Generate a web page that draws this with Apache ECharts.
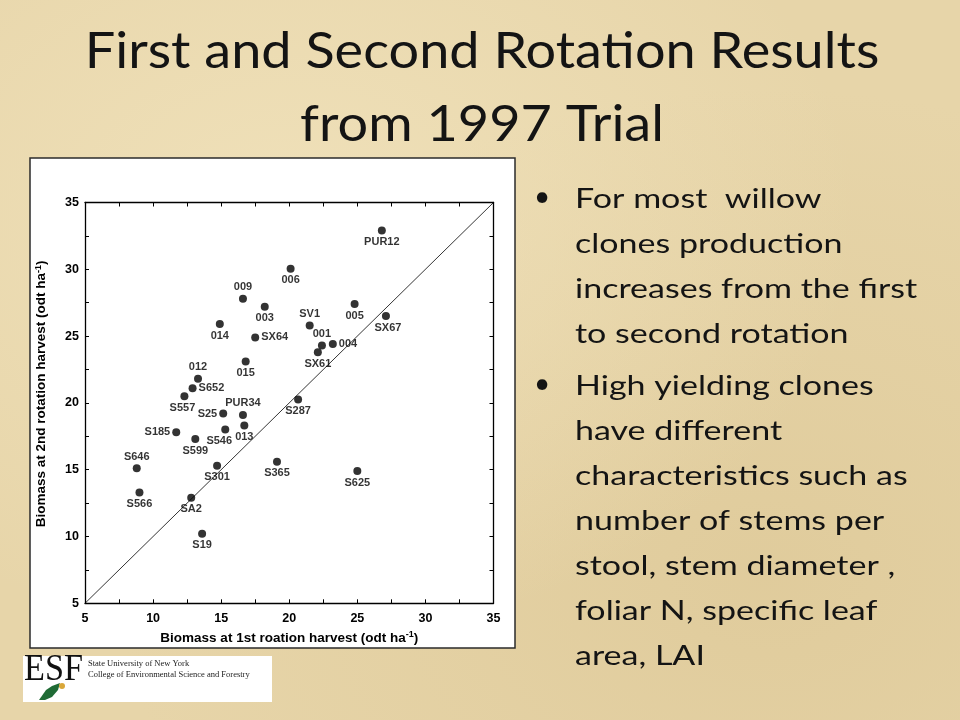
<!DOCTYPE html>
<html>
<head>
<meta charset="utf-8">
<script src="https://cdn.jsdelivr.net/npm/echarts@6/dist/echarts.min.js"></script>
<style>
html,body{margin:0;padding:0;width:960px;height:720px;overflow:hidden;}
body{background:#e7d5a9;background-image:radial-gradient(ellipse at 30% 30%, rgba(245,232,196,0.6), rgba(230,211,166,0) 60%),radial-gradient(ellipse at 80% 80%, rgba(215,192,140,0.45), rgba(230,211,166,0) 60%);}
#c{width:960px;height:720px;}
</style>
</head>
<body>
<div id="c"></div>
<script>
// ---- data ----
const clones = ['PUR12','006','005','SX67','SV1','001','004','SX61','003','SX64','009','014','015','012','S652','S557','S25','PUR34','013','S546','S185','S599','S646','S301','S566','SA2','S19','S287','S365','S625'];
const firstRotation = [26.8,20.1,24.8,27.1,21.5,22.4,23.2,22.1,18.2,17.5,16.6,14.9,16.8,13.3,12.9,12.3,15.15,16.6,16.7,15.3,11.7,13.1,8.8,14.7,9.0,12.8,13.6,20.65,19.1,25.0];
const secondRotation = [32.9,30.05,27.4,26.5,25.8,24.3,24.4,23.8,27.2,24.9,27.8,25.9,23.1,21.8,21.1,20.5,19.2,19.1,18.3,18.0,17.8,17.3,15.1,15.3,13.3,12.9,10.2,20.25,15.6,14.9];
const oneToOne = [[5,5],[35,35]];
const axisTicks = [5,10,15,20,25,30,35];
const titleLines = ['First and Second Rotation Results','from 1997 Trial'];
const bullet1 = ['For most  willow','clones production','increases from the first','to second rotation'];
const bullet2 = ['High yielding clones','have different','characteristics such as','number of stems per','stool, stem diameter ,','foliar N, specific leaf','area, LAI'];

// label placement (style)
const labelPlace = {PUR12:'bottom','006':'bottom','005':'bottom',SX67:'bottom',SV1:'top','001':'top','004':'right',SX61:'bottom','003':'bottom',SX64:'right','009':'top','014':'bottom','015':'bottom','012':'top',S652:'right',S557:'bottom',S25:'left',PUR34:'top','013':'bottom',S546:'bottom',S185:'left',S599:'bottom',S646:'top',S301:'bottom',S566:'bottom',SA2:'bottom',S19:'bottom',S287:'bottom',S365:'bottom',S625:'bottom'};
const labelOffset = {S546:[-6,0],SX67:[2,0],S557:[-2,0]};

const pts = clones.map((n,i)=>({
  name:n, value:[firstRotation[i], secondRotation[i]],
  label:{position:labelPlace[n]||'bottom', offset:labelOffset[n]||[0,0]}
}));

const chart = echarts.init(document.getElementById('c'), null, {renderer:'canvas'});
const FF = '"Liberation Sans", Arial, sans-serif';
const SF = 'Lato, "Open Sans", sans-serif';

const graphics = [];
graphics.push({type:'rect', z:-10, shape:{x:30,y:158,width:485,height:490}, style:{fill:'#fff', stroke:'#2b2b2b', lineWidth:1.5}});
titleLines.forEach((t,i)=>graphics.push({type:'text', x:482, y:52+i*73, scaleX:1.06,
  style:{text:t, x:0, y:0, textAlign:'center', textVerticalAlign:'middle', font:'51px '+SF, fill:'#141414'}}));
function addBullet(lines, y0){
  graphics.push({type:'text', x:542, y:y0-2, style:{text:'•', x:0, y:0, textAlign:'center', textVerticalAlign:'middle', font:'28px '+SF, fill:'#141414'}});
  lines.forEach((t,i)=>graphics.push({type:'text', x:575, y:y0+i*45, scaleX:1.26,
    style:{text:t, x:0, y:0, textAlign:'left', textVerticalAlign:'middle', font:'27px '+SF, fill:'#141414'}}));
}
addBullet(bullet1, 199);
addBullet(bullet2, 386);
// logo
graphics.push({type:'rect', shape:{x:23,y:656,width:249,height:46}, style:{fill:'#fff'}});
graphics.push({type:'text', x:24, y:670, scaleX:0.9, style:{text:'ESF', x:0, y:0, textVerticalAlign:'middle', font:'38px "Liberation Serif", "DejaVu Serif", serif', fill:'#111'}});
graphics.push({type:'polygon', shape:{points:[[39,700],[46,690],[52,686],[60,683],[58,690],[52,697],[45,700]]}, style:{fill:'#1f6b35'}});
graphics.push({type:'circle', shape:{cx:62,cy:686,r:3}, style:{fill:'#d9a73a'}});
graphics.push({type:'text', style:{text:'State University of New York', x:88, y:664, textVerticalAlign:'middle', font:'8.5px "Liberation Serif", serif', fill:'#222'}});
graphics.push({type:'text', style:{text:'College of Environmental Science and Forestry', x:88, y:675, textVerticalAlign:'middle', font:'8.5px "Liberation Serif", serif', fill:'#222'}});

const axisCommon = {
  min:5, max:35, interval:2.5,
  axisLine:{show:true, onZero:false, lineStyle:{color:'#000', width:1.3}},
  axisTick:{show:true, inside:true, length:4, lineStyle:{color:'#000', width:1}},
  splitLine:{show:false}
};
const fmt = v => axisTicks.includes(v) ? String(v) : '';

chart.setOption({
  animation:false,
  backgroundColor:'transparent',
  graphic:graphics,
  grid:{left:85, right:466.5, top:202.5, bottom:116.7, containLabel:false},
  xAxis:[
    Object.assign({}, axisCommon, {type:'value', position:'bottom',
      axisLabel:{formatter:fmt, margin:9, color:'#000', fontFamily:FF, fontWeight:'bold', fontSize:12.5},
      name:'Biomass at 1st roation harvest (odt ha{sup|-1})', nameLocation:'middle', nameGap:27,
      nameTextStyle:{color:'#000', fontFamily:FF, fontWeight:'bold', fontSize:13.5, verticalAlign:'top',
        rich:{sup:{fontSize:9, fontFamily:FF, fontWeight:'bold', verticalAlign:'top', padding:[0,0,6,0]}}}}),
    Object.assign({}, axisCommon, {type:'value', position:'top', axisLabel:{show:false}})
  ],
  yAxis:[
    Object.assign({}, axisCommon, {type:'value', position:'left',
      axisLabel:{formatter:fmt, margin:6, color:'#000', fontFamily:FF, fontWeight:'bold', fontSize:12.5},
      name:'Biomass at 2nd rotation harvest (odt ha{sup|-1})', nameLocation:'middle', nameGap:36,
      nameTextStyle:{color:'#000', fontFamily:FF, fontWeight:'bold', fontSize:13.5, padding:[0,0,0,18],
        rich:{sup:{fontSize:9, fontFamily:FF, fontWeight:'bold', padding:[0,0,6,0]}}}}),
    Object.assign({}, axisCommon, {type:'value', position:'right', axisLabel:{show:false}})
  ],
  series:[
    {type:'line', data:oneToOne, showSymbol:false, symbol:'none', lineStyle:{color:'#000', width:0.8}, z:1, silent:true},
    {type:'scatter', data:pts, symbol:'circle', symbolSize:8, itemStyle:{color:'#000'},
      label:{show:true, formatter:p=>p.name, distance:2, color:'#000', fontFamily:FF, fontWeight:'bold', fontSize:11},
      z:3}
  ]
});
</script>
</body>
</html>
